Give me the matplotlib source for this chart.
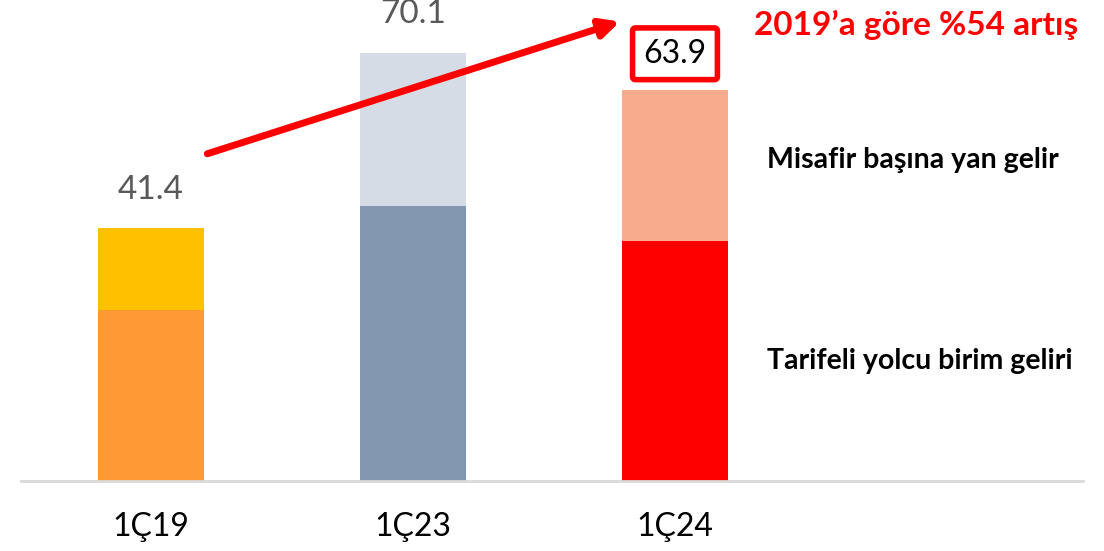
import matplotlib
matplotlib.use("Agg")
import matplotlib.pyplot as plt
from matplotlib.patches import FancyArrowPatch

plt.rcParams['font.family'] = ['Lato', 'DejaVu Sans']

# Data
categories = ['1Ç19', '1Ç23', '1Ç24']
ticket_rev = [28.0, 45.0, 39.3]      # Tarifeli yolcu birim geliri
ancillary_rev = [13.4, 25.1, 24.6]   # Misafir başına yan gelir
totals = [41.4, 70.1, 63.9]

bottom_colors = ['#FF9933', '#8497B0', '#FF0000']
top_colors = ['#FFC000', '#D6DCE5', '#F8AB8D']

fig = plt.figure(figsize=(11.04, 5.51), dpi=100)
ax = fig.add_axes([20 / 1104, 0, 1065 / 1104, 1])

x = list(range(len(categories)))
ax.bar(x, ticket_rev, width=0.405, color=bottom_colors)
ax.bar(x, ancillary_rev, width=0.405, bottom=ticket_rev, color=top_colors)

ax.set_xlim(-0.5, 3.565)
ax.set_ylim(-11.46, 78.7)
ax.axhline(0, color='#D9D9D9', lw=2)
ax.axis('off')

# category labels
for xi, c in zip(x, categories):
    ax.text(xi, -7.6, c, ha='center', va='center', fontsize=23, color='black')

# total labels
ax.text(x[0], totals[0] + 6.2, f'{totals[0]:.1f}', ha='center', va='center',
        fontsize=24, color='#595959')
ax.text(x[1], totals[1] + 6.3, f'{totals[1]:.1f}', ha='center', va='center',
        fontsize=24, color='#595959')
ax.text(x[2], totals[2] + 6.0, f'{totals[2]:.1f}', ha='center', va='center',
        fontsize=23, color='black',
        bbox=dict(boxstyle='round,pad=0.34,rounding_size=0.1', fc='white',
                  ec='#FF0000', lw=4))

# growth arrow
arrow = FancyArrowPatch((0.205, 53.4), (1.8, 75.3), arrowstyle='-|>',
                        mutation_scale=28, color='#FF0000', lw=5)
ax.add_patch(arrow)
ax.text(2.3, 74.6, '2019’a göre %54 artış', ha='left', va='center',
        fontsize=24, fontweight='bold', color='#FF0000')

# series labels
ax.text(2.35, 52.6, 'Misafir başına yan gelir', ha='left', va='center',
        fontsize=20.5, fontweight='bold', color='black')
ax.text(2.35, 19.6, 'Tarifeli yolcu birim geliri', ha='left', va='center',
        fontsize=20.5, fontweight='bold', color='black')

fig.savefig('out.png', dpi=100)
